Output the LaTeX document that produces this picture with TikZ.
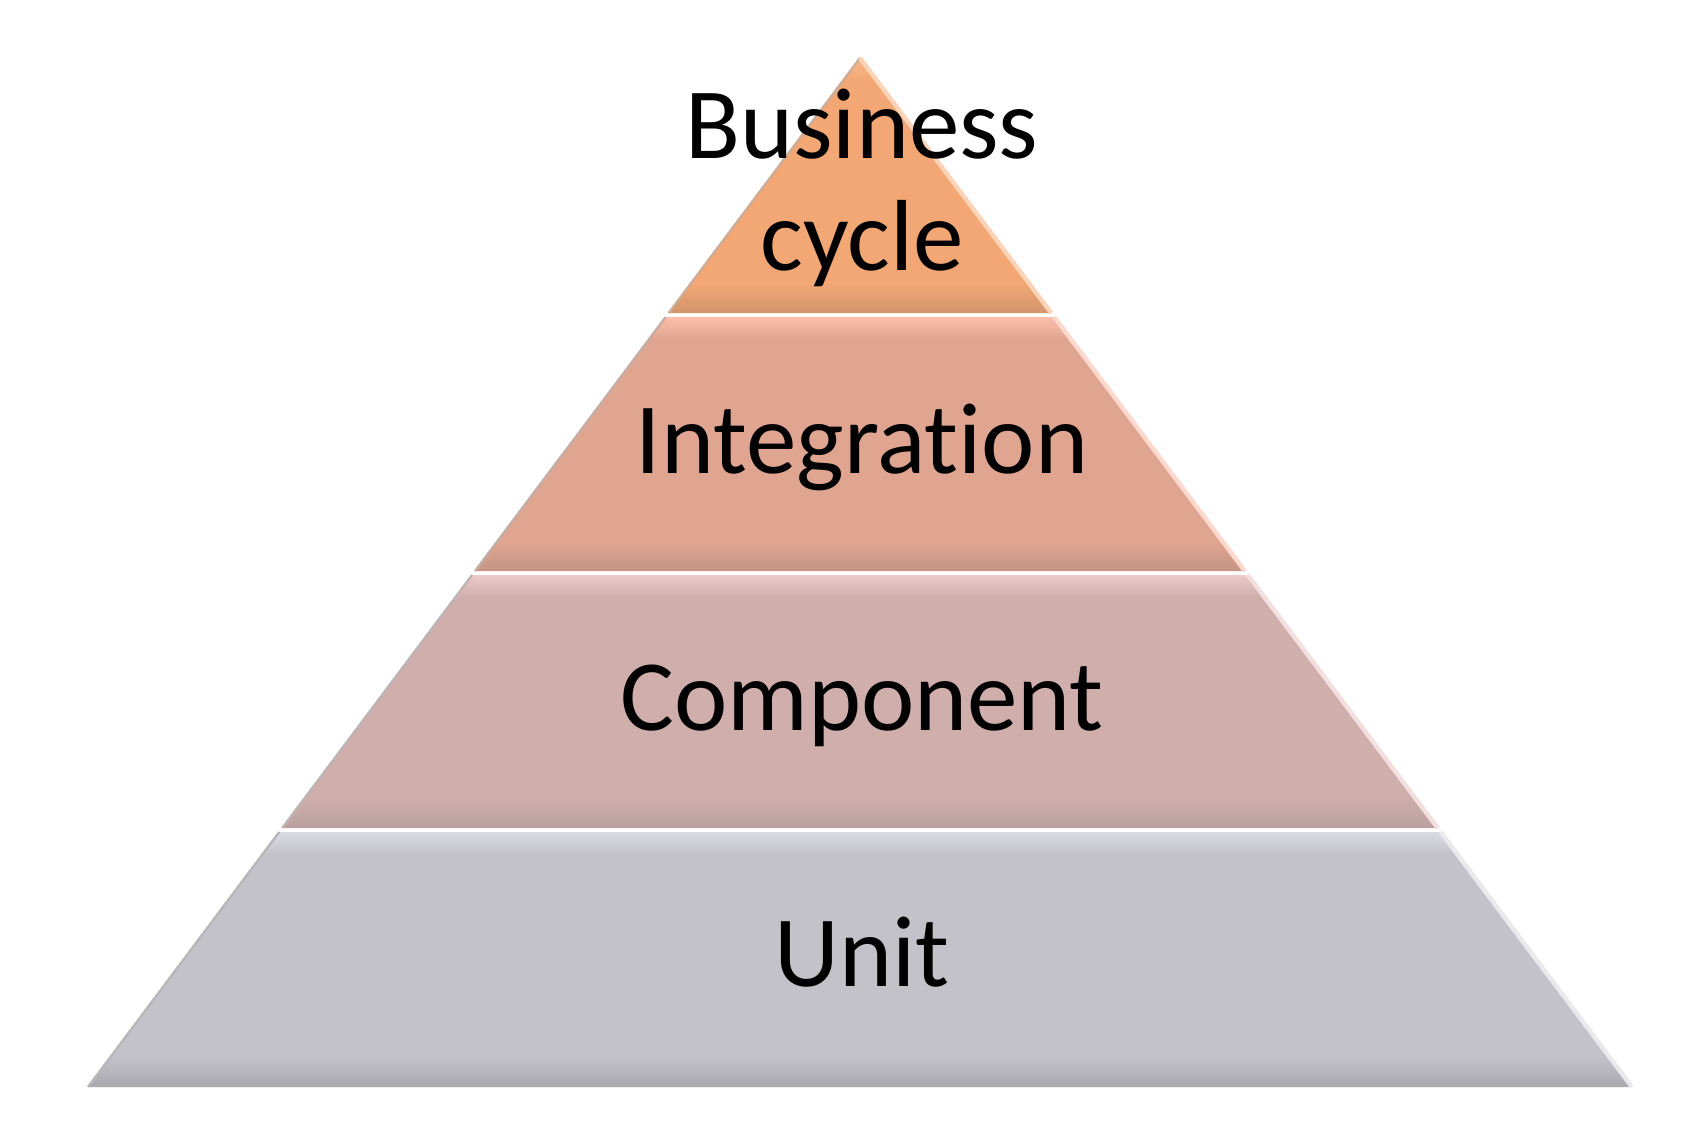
\documentclass[tikz,border=0pt]{standalone}
\usepackage{fontspec}
\setmainfont{Carlito}[Ligatures={NoCommon,NoRare,NoContextual}]
\definecolor{tAbase}{HTML}{F2A774}
\definecolor{tAdark}{HTML}{D3946B}
\definecolor{tAlight}{HTML}{F8B888}
\definecolor{tBbase}{HTML}{E0A591}
\definecolor{tBdark}{HTML}{C49585}
\definecolor{tBlight}{HTML}{FBBEAA}
\definecolor{tCbase}{HTML}{CFAEAC}
\definecolor{tCdark}{HTML}{B8A09F}
\definecolor{tClight}{HTML}{EDCACA}
\definecolor{tDbase}{HTML}{C3C2C8}
\definecolor{tDdark}{HTML}{A9A8AF}
\definecolor{tDlight}{HTML}{DBDBE3}
\newcommand\pyrtier[4]{%
  \begin{scope}
    \clip ({860-0.7502*(#1-58)},#1) -- ({860+0.7502*(#1-58)},#1)
      -- ({860+0.7502*(#2-58)},#2) -- ({860-0.7502*(#2-58)},#2) -- cycle;
    \fill[#3base] (0,#1) rectangle (1708,#2);
    \shade[top color=#3light, bottom color=#3base] (0,#1) rectangle (1708,{#1+22});
    \shade[top color=#3base, bottom color=#3dark] (0,{#2-30}) rectangle (1708,#2);
  \end{scope}
  \draw[#3dark!80!black!60!white, line width=1.2]
    ({860-0.7502*(#1-58)},#1) -- ({860-0.7502*(#2-58)},#2);
  \draw[#3light!60!white, line width=2.2]
    ({860+0.7502*(#1-58)},#1) -- ({860+0.7502*(#2-58)},#2);
}
\begin{document}
\begin{tikzpicture}[x=0.5pt,y=-0.5pt,
  tierlabel/.style={anchor=base, inner sep=0pt, text=black,
    font=\fontsize{50.5}{56}\selectfont}]
\useasboundingbox (0,0) rectangle (1708,1131);
\fill[white] (0,0) rectangle (1708,1131);
\pyrtier{832}{1087}{tD}{}
\pyrtier{575}{828}{tC}{}
\pyrtier{317}{571}{tB}{}
\pyrtier{58}{313}{tA}{}
\node[tierlabel] (business) at (862,158) {Business};
\node[tierlabel] (cycle) at (862,270) {cycle};
\node[tierlabel] (integration) at (862,473) {Integrat\kern0pt ion};
\node[tierlabel] (component) at (862,730) {Component};
\node[tierlabel] (unit) at (862,986) {Unit};
\end{tikzpicture}
\end{document}
